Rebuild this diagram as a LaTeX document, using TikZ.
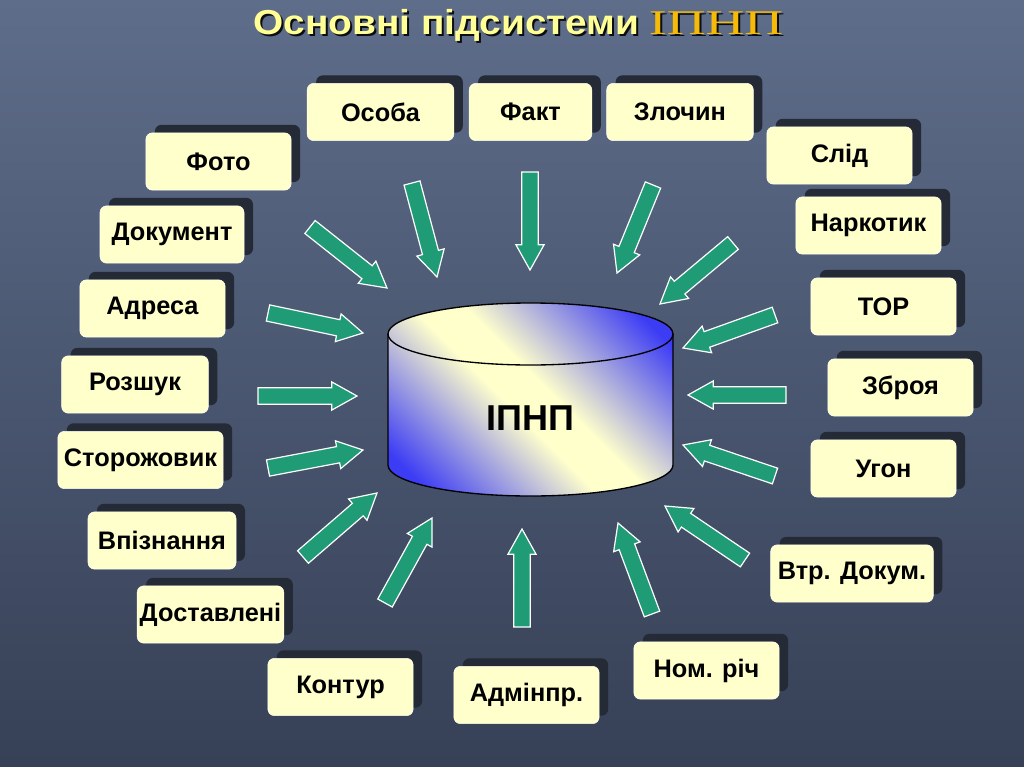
\documentclass[tikz,border=0pt]{standalone}
\usepackage{fontspec}
\setmainfont{Liberation Sans}
\newfontfamily\goldserif{Liberation Serif}
\usetikzlibrary{calc,shadows}
\definecolor{bgtop}{RGB}{94,109,138}
\definecolor{bgbot}{RGB}{54,64,86}
\definecolor{boxfill}{RGB}{255,255,204}
\definecolor{boxshadow}{RGB}{36,42,54}
\definecolor{agreen}{RGB}{31,155,118}
\definecolor{titleyel}{RGB}{255,255,150}
\definecolor{titlegold}{RGB}{246,186,8}
\definecolor{cylblue}{RGB}{60,60,245}
\definecolor{cylyel}{RGB}{255,255,204}
\pgfdeclarehorizontalshading{cylshade}{100bp}{color(0bp)=(cylblue); color(21bp)=(cylblue); color(46bp)=(cylyel); color(54bp)=(cylyel); color(79bp)=(cylblue); color(100bp)=(cylblue)}
\tikzset{
  box/.style={rectangle, rounded corners=5pt, fill=boxfill, draw=white!70!boxfill, line width=0.4pt,
    minimum height=43pt, inner sep=1pt, text=black, font=\bfseries\fontsize{19}{21}\selectfont,
    general shadow={fill=boxshadow, draw=none, shadow xshift=6.75pt, shadow yshift=6pt}},
  garr/.style={fill=agreen, draw=white, line width=0.9pt, line join=miter},
  cyl/.style={draw=black, line width=1pt},
  ttl/.style={anchor=base west, inner sep=0pt, font=\bfseries\fontsize{26}{30}\selectfont},
}
\newcommand\garrow[2]{%
  \draw[garr] let \p1=(#1), \p2=(#2), \n1={atan2(\y2-\y1,\x2-\x1)}, \n2={veclen(\x2-\x1,\y2-\y1)-19} in
    ($(#1)+(\n1+90:6.2pt)$) -- ++(\n1:\n2) -- ++(\n1+90:4.4pt) -- (#2)
    -- ($(#1)+(\n1:\n2)+(\n1-90:10.6pt)$) -- ++(\n1+90:4.4pt) -- ($(#1)+(\n1-90:6.2pt)$) -- cycle;}
\newcommand\titletext[1]{\scalebox{1.12}[1]{Основні підсистеми} {\goldserif\mdseries#1\scalebox{1.55}[1]{ІПНП}}}
\begin{document}
\begin{tikzpicture}[x=0.75pt,y=-0.75pt]
\fill[top color=bgtop, bottom color=bgbot] (0,0) rectangle (1024,767);
\useasboundingbox (0,0) rectangle (1024,767);
% title
\node[ttl, text=black!80!bgbot] (titleshadow) at (255,37) {\titletext{}};
\node[ttl, text=titleyel] (title) at (253,35) {\titletext{\color{titlegold}}};
% cylinder
\shade[shading=cylshade, shading angle=45] (388,334) -- (388,465) arc[start angle=180, end angle=0, x radius=142.5, y radius=31]
  -- (673,334) arc[start angle=0, end angle=-180, x radius=142.5, y radius=31] -- cycle;
\draw[cyl] (388,334) -- (388,465) arc[start angle=180, end angle=0, x radius=142.5, y radius=31]
  -- (673,334) arc[start angle=0, end angle=-180, x radius=142.5, y radius=31] -- cycle;
\draw[cyl] (388,334) arc[start angle=180, end angle=0, x radius=142.5, y radius=31];
\node[font=\bfseries\fontsize{27}{30}\selectfont] (ipnp) at (530,418) {ІПНП};
% boxes
\node[box, minimum width=110pt] (osoba) at (380.5,112) {Особа};
\node[box, minimum width=92pt] (fakt) at (530.5,112) {Факт};
\node[box, minimum width=110pt] (zlochyn) at (680,112) {Злочин};
\node[box, minimum width=109pt] (foto) at (218.5,161.5) {Фото};
\node[box, minimum width=109pt] (slid) at (839.5,155.5) {Слід};
\node[box, minimum width=108pt] (dokument) at (172,234.5) {Документ};
\node[box, minimum width=109pt] (narkotyk) at (868.5,225.5) {Наркотик};
\node[box, minimum width=109pt] (adresa) at (152.5,308.5) {Адреса};
\node[box, minimum width=109pt] (tor) at (883.5,306.5) {ТОР};
\node[box, minimum width=110pt] (rozshuk) at (135,384.5) {Розшук};
\node[box, minimum width=109pt] (zbroia) at (900.5,387.5) {Зброя};
\node[box, minimum width=124pt] (storozh) at (140.5,460) {Сторожовик};
\node[box, minimum width=109pt] (uhon) at (883.5,468.5) {Угон};
\node[box, minimum width=111pt] (vpiz) at (162,540.5) {Впізнання};
\node[box, minimum width=122pt] (vtr) at (852,573.5) {Втр. Докум.};
\node[box, minimum width=110pt] (dost) at (210.5,614.5) {Доставлені};
\node[box, minimum width=109pt] (nom) at (706.5,670.5) {Ном. річ};
\node[box, minimum width=109pt] (kontur) at (340.5,687) {Контур};
\node[box, minimum width=109pt] (admin) at (526.5,695) {Адмінпр.};
% arrows
\foreach \a/\b/\c/\d [count=\i] in {310/227/387/288, 412/183/437/277, 530/172/530/270, 653/185/617/273,
  733/243/660/304, 775/315/683/348, 786/395/688/395, 775/476/683/445, 745/560/665/506,
  652/614/618/523, 522/627/522/529, 385/603/432/518, 303/557/377/493, 268/468/363/450,
  258/396/357/396, 268/313/363/333} {
  \coordinate (t\i) at (\a,\b);
  \coordinate (h\i) at (\c,\d);
  \garrow{t\i}{h\i}
}
\end{tikzpicture}
\end{document}
